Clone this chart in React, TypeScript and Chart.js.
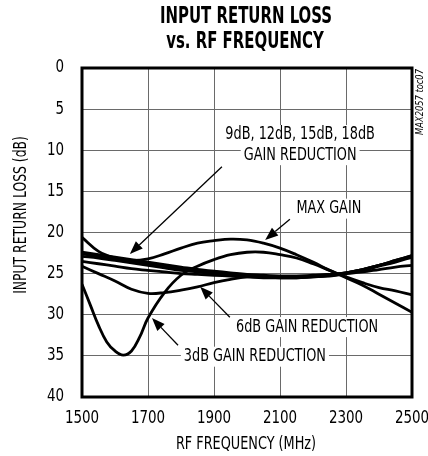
import React, { useEffect, useRef } from "react";
import { Chart, registerables } from "chart.js";

Chart.register(...registerables);

// ---- data ----
const freq = [1500, 1550, 1600, 1650, 1700, 1750, 1800, 1850, 1900, 1950, 2000, 2050, 2100, 2150, 2200, 2250, 2300, 2350, 2400, 2450, 2500];
const maxGain = [20.6, 22.3, 23.1, 23.4, 23.2, 22.6, 21.9, 21.3, 21.0, 20.8, 20.9, 21.3, 21.9, 22.7, 23.6, 24.6, 25.5, 26.4, 27.5, 28.6, 29.7];
const freq3dB = [1500, 1525, 1550, 1575, 1600, 1625, 1650, 1675, 1700, 1750, 1800, 1850, 1900, 1950, 2000, 2050, 2100, 2150, 2200, 2250, 2300, 2350, 2400, 2450, 2500];
const gr3dB = [26.3, 28.8, 31.3, 33.3, 34.4, 34.9, 34.4, 32.7, 30.4, 27.3, 25.2, 24.1, 23.3, 22.7, 22.4, 22.4, 22.7, 23.1, 23.8, 24.6, 25.4, 26.1, 26.7, 27.1, 27.6];
const gr6dB = [24.1, 25.0, 25.9, 26.9, 27.4, 27.3, 27.0, 26.6, 26.1, 25.7, 25.4, 25.3, 25.3, 25.3, 25.3, 25.2, 25.0, 24.8, 24.5, 24.2, 24.0];
const gr9dB = [23.5, 23.8, 24.1, 24.4, 24.6, 24.8, 25.0, 25.1, 25.2, 25.3, 25.4, 25.5, 25.5, 25.5, 25.4, 25.3, 25.0, 24.6, 24.1, 23.6, 23.0];
const gr12dB = [22.9, 23.1, 23.4, 23.7, 24.0, 24.3, 24.6, 24.8, 25.0, 25.2, 25.3, 25.4, 25.5, 25.5, 25.4, 25.2, 24.9, 24.5, 24.0, 23.5, 22.9];
const gr15dB = [22.6, 22.9, 23.2, 23.5, 23.8, 24.1, 24.4, 24.7, 24.9, 25.1, 25.2, 25.3, 25.4, 25.4, 25.3, 25.1, 24.9, 24.5, 24.0, 23.4, 22.8];
const gr18dB = [22.4, 22.7, 23.0, 23.3, 23.6, 23.9, 24.2, 24.5, 24.7, 24.9, 25.1, 25.2, 25.3, 25.3, 25.2, 25.1, 24.9, 24.5, 24.0, 23.4, 22.8];

const xTicks = [1500, 1700, 1900, 2100, 2300, 2500];
const yTicks = [0, 5, 10, 15, 20, 25, 30, 35, 40];

const titleLines = ["INPUT RETURN LOSS", "vs. RF FREQUENCY"];
const xTitle = "RF FREQUENCY (MHz)";
const yTitle = "INPUT RETURN LOSS (dB)";
const tocText = "MAX2057 toc07";

// label annotations in data coordinates (freq, dB)
const labels = [
  { lines: ["9dB, 12dB, 15dB, 18dB", "GAIN REDUCTION"], x: 2161, y: [8.15, 10.6] },
  { lines: ["MAX GAIN"], x: 2248, y: [17.1] },
  { lines: ["6dB GAIN REDUCTION"], x: 2182, y: [31.5] },
  { lines: ["3dB GAIN REDUCTION"], x: 2024, y: [35.1] },
];
const arrows = [
  { from: [1924, 12.0], to: [1645, 22.6] },
  { from: [2130, 18.4], to: [2055, 20.9] },
  { from: [1948, 30.3], to: [1858, 26.6] },
  { from: [1791, 33.7], to: [1712, 30.4] },
];

const FONT = '"Liberation Sans Narrow", "DejaVu Sans Condensed", sans-serif';
const SX = 0.84;

const toPts = (xs: number[], ys: number[]) => xs.map((x, i) => ({ x, y: ys[i] }));

function drawText(ctx: any, t: string, x: number, y: number, sx: number, sy: number, align: string, rot = 0) {
  ctx.save();
  ctx.translate(x, y);
  if (rot) ctx.rotate(rot);
  ctx.scale(sx, sy);
  ctx.textAlign = align;
  ctx.textBaseline = "middle";
  ctx.fillText(t, 0, 0);
  ctx.restore();
}

const annotPlugin = {
  id: "annot",
  beforeDatasetsDraw(chart: any) {
    const { ctx, scales } = chart;
    const xs = scales.x, ys = scales.y;
    ctx.save();
    ctx.font = `17px ${FONT}`;
    labels.forEach((l) => {
      l.lines.forEach((t, i) => {
        const px = xs.getPixelForValue(l.x);
        const py = ys.getPixelForValue(l.y[i]);
        const w = ctx.measureText(t).width * SX;
        ctx.fillStyle = "#fff";
        ctx.fillRect(px - w / 2 - 3, py - 10, w + 6, 20);
        ctx.fillStyle = "#000";
        drawText(ctx, t, px, py, SX, 1, "center");
      });
    });
    ctx.restore();
  },
  afterDatasetsDraw(chart: any) {
    const { ctx, scales } = chart;
    const xs = scales.x, ys = scales.y;
    ctx.save();
    ctx.strokeStyle = "#000";
    ctx.fillStyle = "#000";
    ctx.lineWidth = 1.3;
    arrows.forEach((a) => {
      const x1 = xs.getPixelForValue(a.from[0]);
      const y1 = ys.getPixelForValue(a.from[1]);
      const x2 = xs.getPixelForValue(a.to[0]);
      const y2 = ys.getPixelForValue(a.to[1]);
      const ang = Math.atan2(y2 - y1, x2 - x1);
      const hl = 13, hw = 5;
      const bx = x2 - hl * Math.cos(ang), by = y2 - hl * Math.sin(ang);
      ctx.beginPath();
      ctx.moveTo(x1, y1);
      ctx.lineTo(bx, by);
      ctx.stroke();
      ctx.beginPath();
      ctx.moveTo(x2, y2);
      ctx.lineTo(bx + hw * Math.sin(ang), by - hw * Math.cos(ang));
      ctx.lineTo(bx - hw * Math.sin(ang), by + hw * Math.cos(ang));
      ctx.closePath();
      ctx.fill();
    });
    ctx.restore();
  },
  afterDraw(chart: any) {
    const { ctx, chartArea, scales } = chart;
    const { left, top, right, bottom } = chartArea;
    ctx.save();
    // border
    ctx.strokeStyle = "#000";
    ctx.lineWidth = 3;
    ctx.strokeRect(left, top, right - left, bottom - top);
    ctx.fillStyle = "#000";
    // tick labels
    ctx.font = `17px ${FONT}`;
    xTicks.forEach((v) => drawText(ctx, String(v), scales.x.getPixelForValue(v), 419, SX + 0.04, 1, "center"));
    yTicks.forEach((v) => drawText(ctx, String(v), 64, scales.y.getPixelForValue(v), SX + 0.04, 1, "right"));
    // title
    ctx.font = `bold 20px ${FONT}`;
    drawText(ctx, titleLines[0], 246, 17, 0.83, 1.15, "center");
    drawText(ctx, titleLines[1], 245, 42, 0.83, 1.15, "center");
    // axis titles
    ctx.font = `17px ${FONT}`;
    drawText(ctx, xTitle, 246, 445, SX, 1, "center");
    drawText(ctx, yTitle, 22, 215, 0.81, 1, "center", -Math.PI / 2);
    // toc
    ctx.font = `italic 11px ${FONT}`;
    drawText(ctx, tocText, 420, 102, SX, 1, "center", -Math.PI / 2);
    ctx.restore();
  },
};

export default function App() {
  const ref = useRef<HTMLCanvasElement>(null);
  useEffect(() => {
    document.body.style.margin = "0";
    const line = (data: any[]) => ({
      data,
      borderColor: "#000",
      borderWidth: 2.8,
      pointRadius: 0,
      tension: 0.4,
      fill: false,
    });
    const chart = new Chart(ref.current as HTMLCanvasElement, {
      type: "line",
      data: {
        datasets: [
          { label: "MAX GAIN", ...line(toPts(freq, maxGain)) },
          { label: "3dB", ...line(toPts(freq3dB, gr3dB)) },
          { label: "6dB", ...line(toPts(freq, gr6dB)) },
          { label: "9dB", ...line(toPts(freq, gr9dB)) },
          { label: "12dB", ...line(toPts(freq, gr12dB)) },
          { label: "15dB", ...line(toPts(freq, gr15dB)) },
          { label: "18dB", ...line(toPts(freq, gr18dB)) },
        ],
      },
      options: {
        animation: false,
        responsive: false,
        layout: { padding: { top: 68, right: 16, left: 0, bottom: 0 } },
        plugins: { legend: { display: false }, tooltip: { enabled: false }, title: { display: false } },
        scales: {
          x: {
            type: "linear",
            min: 1500,
            max: 2500,
            afterFit: (s: any) => { s.height = 59; },
            afterBuildTicks: (s: any) => { s.ticks = xTicks.map((v) => ({ value: v })); },
            grid: { color: "#6a6a6a", lineWidth: 1, drawTicks: false },
            border: { display: false },
            ticks: { display: false },
          },
          y: {
            type: "linear",
            min: 0,
            max: 40,
            reverse: true,
            afterFit: (s: any) => { s.width = 82; },
            afterBuildTicks: (s: any) => { s.ticks = yTicks.map((v) => ({ value: v })); },
            grid: { color: "#6a6a6a", lineWidth: 1, drawTicks: false },
            border: { display: false },
            ticks: { display: false },
          },
        },
      },
      plugins: [annotPlugin],
    } as any);
    return () => chart.destroy();
  }, []);
  return <canvas ref={ref} width={428} height={456} style={{ display: "block" }} />;
}
